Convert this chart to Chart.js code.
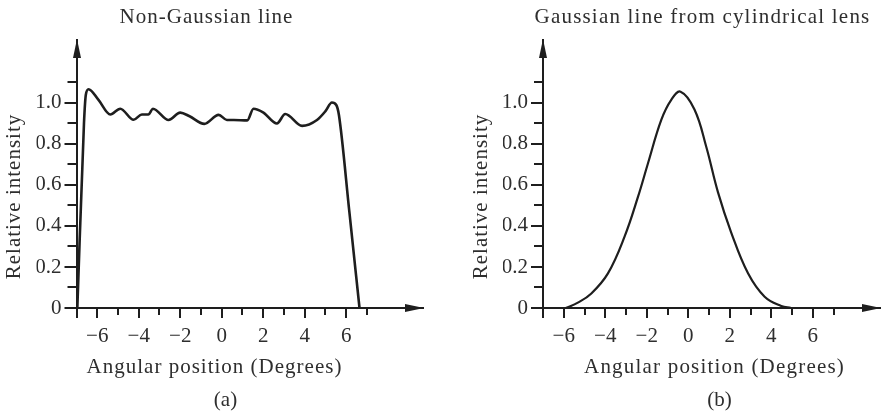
<!DOCTYPE html>
<html><head><meta charset="utf-8">
<script src="https://cdn.jsdelivr.net/npm/chart.js@4"></script>
<style>
html,body{margin:0;padding:0;background:#fff;}
#wrap{position:relative;width:887px;height:413px;overflow:hidden;}
canvas{position:absolute;top:0;}
</style></head><body>
<div id="wrap">
<canvas id="c1" width="443" height="413" style="left:0"></canvas>
<canvas id="c2" width="444" height="413" style="left:443px"></canvas>
</div>
<script>
// ---- data ----
const nonGaussX = [-6.96, -6.64, -6.55, -6.42, -5.94, -5.37, -4.89, -4.25, -3.85, -3.53, -3.32, -2.56, -2.0, -1.55, -0.84, -0.15, 0.25, 0.58, 1.23, 1.53, 2.01, 2.66, 3.06, 3.87, 4.59, 5.0, 5.31, 5.52, 5.65, 6.15, 6.64];
const nonGaussY = [0, 0.90, 1.04, 1.067, 1.015, 0.944, 0.972, 0.918, 0.944, 0.944, 0.972, 0.917, 0.953, 0.935, 0.898, 0.942, 0.917, 0.917, 0.915, 0.972, 0.953, 0.900, 0.946, 0.888, 0.917, 0.960, 1.002, 0.99, 0.94, 0.47, 0];
const gaussX = [-5.9, -5.32, -4.67, -3.87, -3.07, -2.42, -1.94, -1.3, -0.82, -0.37, 0.3, 0.87, 1.43, 2.07, 2.88, 3.68, 4.48, 4.96];
const gaussY = [0, 0.026, 0.071, 0.169, 0.348, 0.543, 0.706, 0.917, 1.015, 1.055, 0.968, 0.785, 0.565, 0.368, 0.169, 0.055, 0.010, 0];
const xTickValues = [-7, -6, -5, -4, -3, -2, -1, 0, 1, 2, 3, 4, 5, 6, 7];
const yTickValues = [0, 0.1, 0.2, 0.3, 0.4, 0.5, 0.6, 0.7, 0.8, 0.9, 1.0, 1.1];
const panelTitles = ['Non-Gaussian line', 'Gaussian line from cylindrical lens'];
const panelLabels = ['(a)', '(b)'];
const xAxisTitle = 'Angular position (Degrees)';
const yAxisTitle = 'Relative intensity';

const FONT = '"Liberation Serif", "Times New Roman", serif';
const TEXT = '#2e2e2e';
const INK = '#1e1e1e';

function toPoints(xs, ys) { return xs.map((x, i) => ({x: x, y: ys[i]})); }

const decorPlugin = {
  id: 'decor',
  afterDraw(chart, args, o) {
    const ctx = chart.ctx;
    const xs = chart.scales.x, ys = chart.scales.y;
    const ca = chart.chartArea;
    ctx.save();
    ctx.strokeStyle = INK; ctx.fillStyle = INK; ctx.lineWidth = 2;
    yTickValues.forEach(v => {
      const t = Math.round(v * 10);
      const len = (t % 2 === 0) ? 12 : 9;
      const py = Math.round(ys.getPixelForValue(v));
      ctx.beginPath(); ctx.moveTo(ca.left - len, py); ctx.lineTo(ca.left, py); ctx.stroke();
    });
    xTickValues.forEach(v => {
      const len = (v % 2 === 0 || v === -7) ? 10 : 7;
      const px = Math.round(xs.getPixelForValue(v));
      ctx.beginPath(); ctx.moveTo(px, ca.bottom); ctx.lineTo(px, ca.bottom + len); ctx.stroke();
    });
    const ax = Math.round(ca.left);
    ctx.beginPath(); ctx.moveTo(ax, ca.top - 1); ctx.lineTo(ax - 4, ca.top + 18); ctx.lineTo(ax + 4, ca.top + 18); ctx.closePath(); ctx.fill();
    const ay = Math.round(ca.bottom);
    ctx.beginPath(); ctx.moveTo(ca.right + 1, ay); ctx.lineTo(ca.right - 18, ay - 4); ctx.lineTo(ca.right - 18, ay + 4); ctx.closePath(); ctx.fill();
    ctx.fillStyle = TEXT;
    ctx.font = '21px ' + FONT;
    ctx.textAlign = 'center';
    ctx.textBaseline = 'alphabetic';
    ctx.letterSpacing = o.spacing + 'px';
    ctx.fillText(o.title, o.titleX, o.titleY);
    ctx.fillText(xAxisTitle, o.xtX, o.xtY);
    ctx.letterSpacing = '0px';
    ctx.fillText(o.label, o.labX, o.labY);
    ctx.letterSpacing = '1px';
    ctx.save();
    ctx.translate(o.ytX, o.ytY);
    ctx.rotate(-Math.PI / 2);
    ctx.textBaseline = 'middle';
    ctx.fillText(yAxisTitle, 0, 0);
    ctx.restore();
    ctx.restore();
  }
};

function makeChart(id, xs, ys, lw, interp, xmax, pad, decor) {
  const ds = { data: toPoints(xs, ys), borderColor: INK, borderWidth: lw, pointRadius: 0, fill: false, clip: 4 };
  if (interp === 'monotone') ds.cubicInterpolationMode = 'monotone'; else ds.tension = interp;
  return new Chart(document.getElementById(id), {
    type: 'line',
    data: { datasets: [ds] },
    options: {
      responsive: false, animation: false,
      layout: { padding: pad },
      plugins: { legend: { display: false }, tooltip: { enabled: false }, decor: decor },
      scales: {
        x: {
          type: 'linear', min: -7, max: xmax,
          afterBuildTicks: s => { s.ticks = xTickValues.map(v => ({value: v})); },
          afterFit: s => { s.height = 40; },
          grid: { display: true, drawOnChartArea: false, drawTicks: false },
          border: { display: true, color: INK, width: 2 },
          ticks: {
            autoSkip: false, maxRotation: 0, padding: 16, color: TEXT,
            font: { family: FONT, size: 21 },
            callback: v => (v % 2 === 0 && Math.abs(v) <= 6) ? (v < 0 ? '\u2212' + Math.abs(v) : String(v)) : ''
          }
        },
        y: {
          type: 'linear', min: 0, max: 1.307,
          afterBuildTicks: s => { s.ticks = yTickValues.map(v => ({value: v})); },
          afterFit: s => { s.width = 40; },
          grid: { display: true, drawOnChartArea: false, drawTicks: false },
          border: { display: true, color: INK, width: 2 },
          ticks: {
            padding: 15, color: TEXT, font: { family: FONT, size: 21 },
            callback: v => { const t = Math.round(v * 10); if (t === 0) return '0'; return t % 2 === 0 ? (t / 10).toFixed(1) : ''; }
          }
        }
      }
    },
    plugins: [decorPlugin]
  });
}

makeChart('c1', nonGaussX, nonGaussY, 2.6, 'monotone', 9.7, {left: 36.5, right: 20, top: 40, bottom: 65},
  {title: panelTitles[0], titleX: 206.5, titleY: 23, spacing: 1, xtX: 214.5, xtY: 373, label: panelLabels[0], labX: 225.5, labY: 406, ytX: 14, ytY: 196.5});
makeChart('c2', gaussX, gaussY, 2.2, 0.4, 9.24, {left: 60, right: 7, top: 40, bottom: 65},
  {title: panelTitles[1], titleX: 259.5, titleY: 23, spacing: 1.2, xtX: 271.5, xtY: 373, label: panelLabels[1], labX: 276.5, labY: 406, ytX: 38.5, ytY: 196.5});
</script>
</body></html>
